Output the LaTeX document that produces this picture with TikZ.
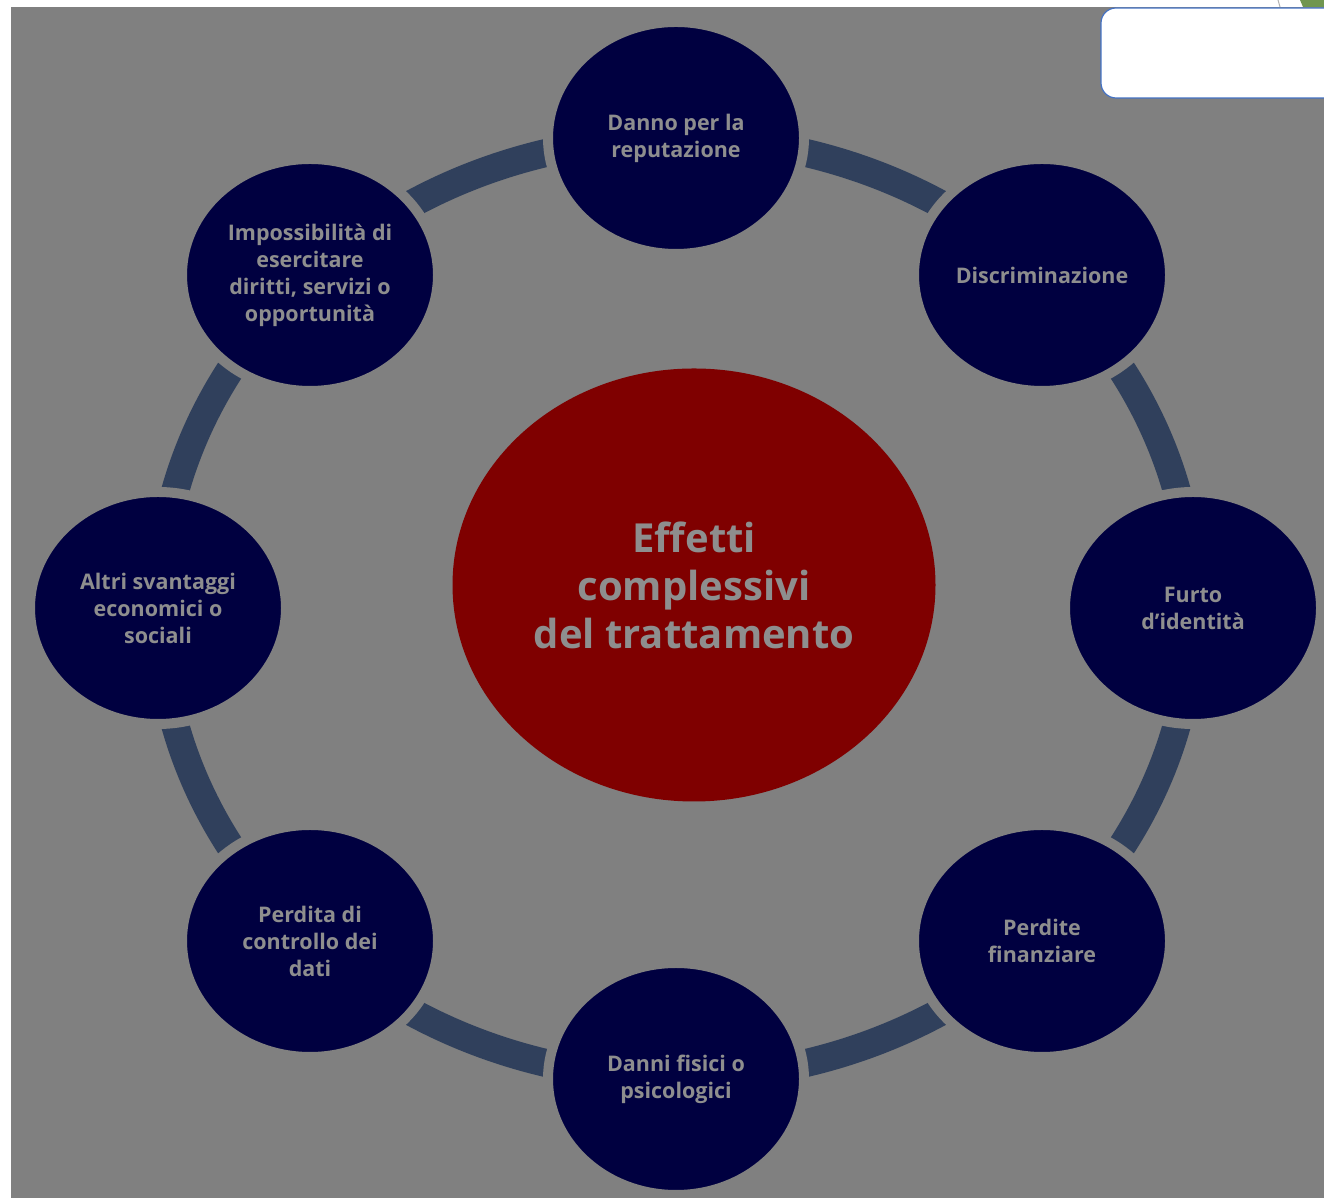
\documentclass[tikz,border=0pt]{standalone}
\usepackage{fontspec}
\setmainfont{Open Sans}[Ligatures=NoCommon]
\usetikzlibrary{shapes.geometric}
\definecolor{bgc}{RGB}{128,128,128}
\definecolor{navy}{RGB}{0,0,64}
\definecolor{ringc}{RGB}{48,64,92}
\definecolor{redc}{RGB}{127,0,0}
\definecolor{txtc}{RGB}{142,142,142}
\definecolor{boxline}{RGB}{68,114,196}
\definecolor{leaf}{RGB}{112,150,80}
\tikzset{
  sat/.style={ellipse, fill=navy, draw=bgc, line width=10pt, minimum width=256pt, minimum height=232pt,
    inner sep=0pt, align=center, text=txtc, font=\fontsize{21.5}{27}\selectfont\bfseries},
  hub/.style={ellipse, fill=redc, minimum width=483pt, minimum height=433pt, inner sep=0pt,
    align=center, text=txtc, font=\fontsize{40}{48}\selectfont\bfseries}
}
\begin{document}
\begin{tikzpicture}[x=1pt,y=1pt]
\useasboundingbox (0,0) rectangle (1324,1198);
\fill[white] (0,0) rectangle (1324,1198);
\fill[bgc] (11,0) rectangle (1324,1191);
\fill[leaf] (1300,1198) -- (1324,1198) -- (1324,1191) -- (1303,1191) -- cycle;
\draw[gray!60, line width=1pt] (1278,1198) -- (1280,1191);
% ring band
\coordinate (rc) at (676,590);
\draw[ringc, line width=28pt] (rc) ellipse [x radius=517, y radius=470];
% satellites
\node[sat] (n1) at (676,1060) {Danno per la\\reputazione};
\node[sat] (n2) at (1042,923) {Discriminazione};
\node[sat] (n3) at (1193,590) {Furto\\d’identità};
\node[sat] (n4) at (1042,257) {Perdite\\finanziare};
\node[sat] (n5) at (676,119) {Danni fisici o\\psicologici};
\node[sat] (n6) at (310,257) {Perdita di\\controllo dei\\dati};
\node[sat] (n7) at (158,590) {Altri svantaggi\\economici o\\sociali};
\node[sat] (n8) at (310,923) {Impossibilità di\\esercitare\\diritti, servizi o\\opportunità};
% hub
\node[hub] (hub) at (694,613) {Effetti\\complessivi\\del trattamento};
% top-right box
\draw[boxline, fill=white, line width=1.2pt, rounded corners=15pt] (1101,1190) rectangle (1340,1100);
\end{tikzpicture}
\end{document}
